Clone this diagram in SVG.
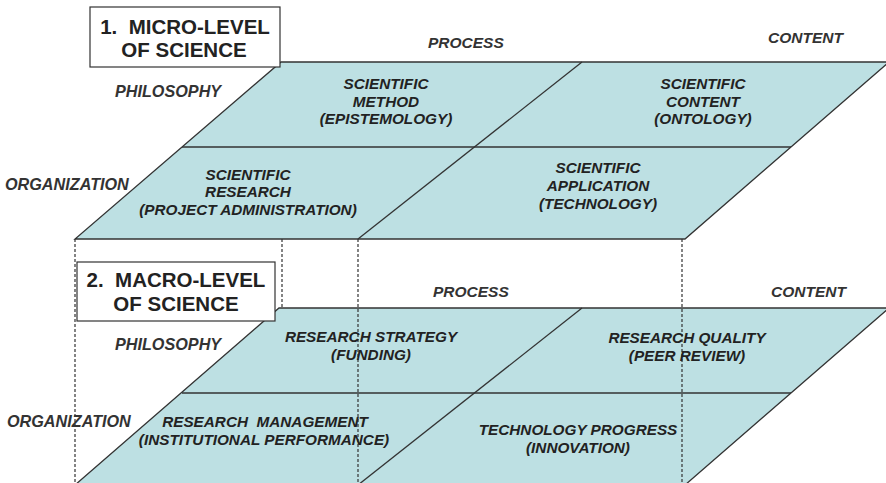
<svg xmlns="http://www.w3.org/2000/svg" width="886" height="483" viewBox="0 0 886 483">
<style>
.cell{fill:#bde0e3;stroke:none}
.edge{fill:none;stroke:#333;stroke-width:1.3}
.dash{fill:none;stroke:#333;stroke-width:1.2;stroke-dasharray:3 2}
.box{fill:#fff;stroke:#333;stroke-width:1.2}
.h{font-family:"Liberation Sans",Arial,sans-serif;font-weight:bold;font-size:20.5px;fill:#222;text-anchor:middle}
.c{font-family:"Liberation Sans",Arial,sans-serif;font-weight:bold;font-style:italic;font-size:15.3px;fill:#222;text-anchor:middle}
.a{font-family:"Liberation Sans",Arial,sans-serif;font-style:italic;font-weight:bold;font-size:15.5px;fill:#333}
.al{font-size:16.2px}
</style>
<rect width="886" height="483" fill="#fff"/>
<g id="plane-micro">
<polygon class="cell" points="281,62 889,62 685,239 75,239"/>
<polygon class="edge" points="281,62 889,62 685,239 75,239"/>
<line class="edge" x1="182" y1="147" x2="791" y2="147"/>
<line class="edge" x1="582" y1="62" x2="358" y2="239"/>
</g>
<g id="plane-macro">
<polygon class="cell" points="279,308 889,308 685,485 75,485"/>
<polygon class="edge" points="279,308 889,308 685,485 75,485"/>
<line class="edge" x1="182" y1="393" x2="791" y2="393"/>
<line class="edge" x1="582" y1="308" x2="358" y2="485"/>
</g>
<g id="connectors">
<line class="dash" x1="75" y1="239" x2="75" y2="483"/>
<line class="dash" x1="282" y1="239" x2="282" y2="308"/>
<line class="dash" x1="358" y1="239" x2="358" y2="483"/>
<line class="dash" x1="682" y1="239" x2="682" y2="483"/>
</g>
<g id="title-micro">
<rect class="box" x="90" y="7" width="190" height="60"/>
<text class="h" x="185" y="34" xml:space="preserve">1.  MICRO-LEVEL</text>
<text class="h" x="184" y="57">OF SCIENCE</text>
</g>
<g id="title-macro">
<rect class="box" x="77" y="262" width="198" height="59"/>
<text class="h" x="176" y="287" xml:space="preserve">2.  MACRO-LEVEL</text>
<text class="h" x="176" y="311">OF SCIENCE</text>
</g>
<g id="axis-labels">
<text class="a" x="428" y="48">PROCESS</text>
<text class="a" x="768" y="43">CONTENT</text>
<text class="a al" x="115" y="97">PHILOSOPHY</text>
<text class="a al" x="5" y="190">ORGANIZATION</text>
<text class="a" x="433" y="297">PROCESS</text>
<text class="a" x="771" y="297">CONTENT</text>
<text class="a al" x="115" y="350">PHILOSOPHY</text>
<text class="a al" x="7" y="427">ORGANIZATION</text>
</g>
<g id="scientific-method">
<text class="c" x="386" y="89">SCIENTIFIC</text>
<text class="c" x="386" y="107">METHOD</text>
<text class="c" x="386" y="124">(EPISTEMOLOGY)</text>
</g>
<g id="scientific-content">
<text class="c" x="703" y="89">SCIENTIFIC</text>
<text class="c" x="703" y="107">CONTENT</text>
<text class="c" x="703" y="124">(ONTOLOGY)</text>
</g>
<g id="scientific-research">
<text class="c" x="248" y="180">SCIENTIFIC</text>
<text class="c" x="248" y="197">RESEARCH</text>
<text class="c" x="248" y="215">(PROJECT ADMINISTRATION)</text>
</g>
<g id="scientific-application">
<text class="c" x="598" y="173">SCIENTIFIC</text>
<text class="c" x="598" y="191">APPLICATION</text>
<text class="c" x="598" y="209">(TECHNOLOGY)</text>
</g>
<g id="research-strategy">
<text class="c" x="371" y="342">RESEARCH STRATEGY</text>
<text class="c" x="371" y="360">(FUNDING)</text>
</g>
<g id="research-quality">
<text class="c" x="687" y="343">RESEARCH QUALITY</text>
<text class="c" x="687" y="361">(PEER REVIEW)</text>
</g>
<g id="research-management">
<text class="c" x="265" y="427" xml:space="preserve">RESEARCH  MANAGEMENT</text>
<text class="c" x="264" y="445">(INSTITUTIONAL PERFORMANCE)</text>
</g>
<g id="technology-progress">
<text class="c" x="578" y="435">TECHNOLOGY PROGRESS</text>
<text class="c" x="578" y="453">(INNOVATION)</text>
</g>
</svg>
